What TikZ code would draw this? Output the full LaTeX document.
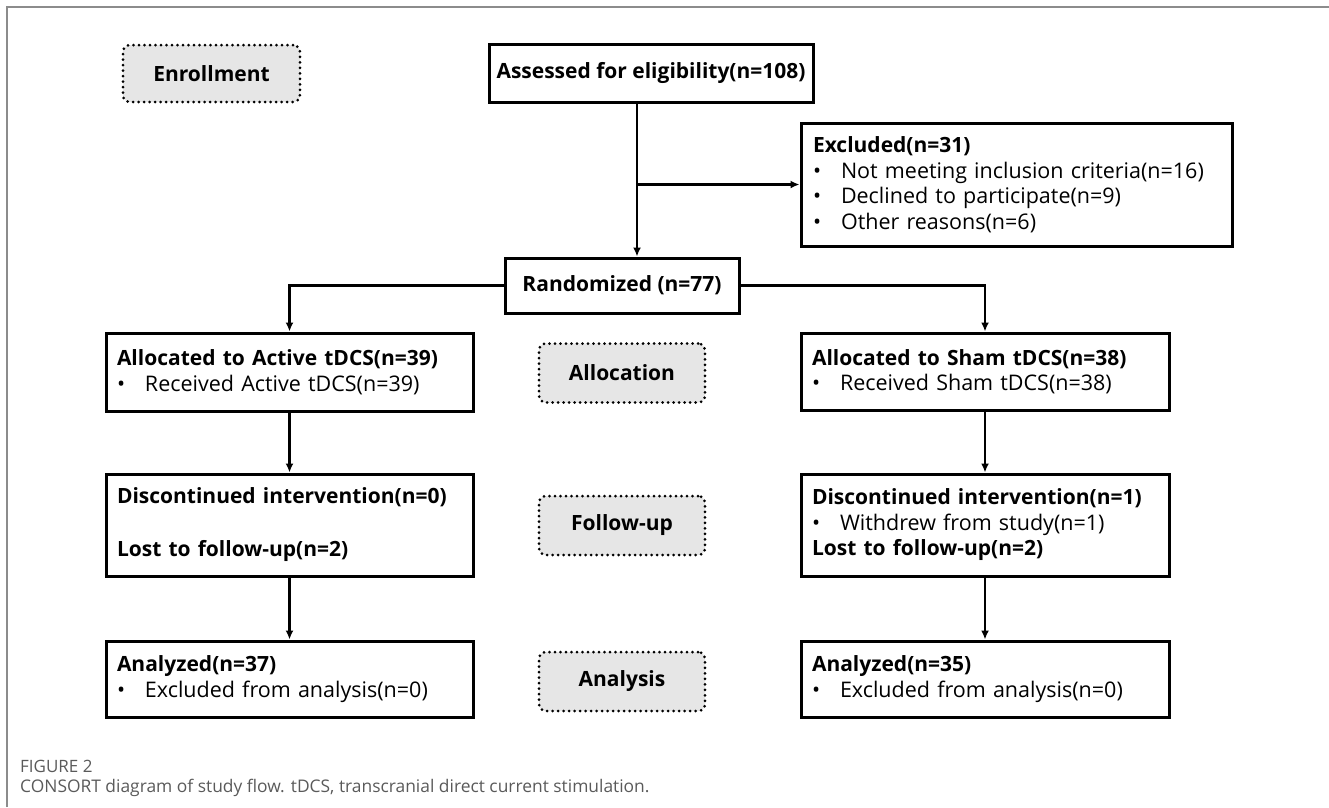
\documentclass[tikz,border=0pt]{standalone}
\usepackage{fontspec}
\setmainfont{Open Sans}
\usetikzlibrary{arrows.meta}
\definecolor{framegray}{HTML}{8C8C8C}
\definecolor{boxgray}{HTML}{E6E6E6}
\definecolor{capgray}{HTML}{5A5A5A}
\newcommand{\bul}{\makebox[28pt][l]{•}}
\newcommand{\hd}[1]{{\bfseries\fontsize{21}{25.5}\selectfont #1}}
\begin{document}
\begin{tikzpicture}[x=1pt,y=-1pt,
  box/.style={draw, line width=3pt, inner xsep=11pt, inner ysep=0pt, align=left, font=\fontsize{21.5}{25.5}\selectfont},
  cbox/.style={draw, line width=3pt, inner sep=0pt, align=center, font=\bfseries\fontsize{21}{25.5}\selectfont},
  phase/.style={draw, line width=3pt, dash pattern=on 0pt off 5.5pt, line cap=round, rounded corners=7pt, fill=boxgray, font=\bfseries\fontsize{21}{25}\selectfont, inner sep=0pt, minimum width=166pt, minimum height=59pt},
  conn/.style={line width=2.4pt},
  arr/.style={conn, -{Latex[length=9pt,width=8pt]}}
]
\useasboundingbox (0,0) rectangle (1329,807);
\draw[framegray, line width=2pt] (7,807) -- (7,7) -- (1329,7);

\node[phase, minimum width=177pt, minimum height=57pt] (enroll) at (211.5,73.5) {Enrollment};
\node[cbox, minimum width=324pt, minimum height=58pt] (assess) at (651,73) {Assessed for eligibility(n=108)};
\node[box, inner xsep=12pt, text width=407pt, minimum height=123pt] (excl) at (1016.5,184.5)
  {\hd{Excluded(n=31)}\\\bul Not meeting inclusion criteria(n=16)\\\bul Declined to participate(n=9)\\\bul Other reasons(n=6)};
\node[cbox, minimum width=234pt, minimum height=55pt] (rand) at (622,285.5) {Randomized (n=77)};

\node[box, text width=345pt, minimum height=78pt] (active) at (289.5,372)
  {\hd{Allocated to Active tDCS(n=39)}\\\bul Received Active tDCS(n=39)};
\node[phase] (alloc) at (622,373) {Allocation};
\node[box, text width=346pt, minimum height=77pt] (sham) at (985,371.5)
  {\hd{Allocated to Sham tDCS(n=38)}\\\bul Received Sham tDCS(n=38)};

\node[box, text width=345pt, minimum height=102pt] (discL) at (289.5,525)
  {\hd{Discontinued intervention(n=0)}\\[2pt]\mbox{}\\\hd{Lost to follow-up(n=2)}};
\node[phase] (follow) at (622,525.5) {Follow-up};
\node[box, text width=346pt, minimum height=102pt] (discR) at (985,525)
  {\hd{Discontinued intervention(n=1)}\\\bul Withdrew from study(n=1)\\\hd{Lost to follow-up(n=2)}};

\node[box, text width=345pt, minimum height=76pt] (analL) at (289.5,679)
  {\hd{Analyzed(n=37)}\\\bul Excluded from analysis(n=0)};
\node[phase] (analysis) at (622,681.5) {Analysis};
\node[box, text width=346pt, minimum height=76pt] (analR) at (985,679)
  {\hd{Analyzed(n=35)}\\\bul Excluded from analysis(n=0)};

\coordinate (trunk) at (637,102);
\draw[arr] (assess.south -| trunk) -- (rand.north -| trunk);
\draw[arr] (trunk |- excl.west) -- (excl.west);
\draw[arr] (rand.west) -| (active.north);
\draw[arr] (rand.east) -| (sham.north);
\draw[arr] (active.south) -- (discL.north);
\draw[arr] (discL.south) -- (analL.north);
\draw[arr] (sham.south) -- (discR.north);
\draw[arr] (discR.south) -- (analR.north);

\node[anchor=base west, inner sep=0pt, text=capgray, font=\fontsize{17}{19}\selectfont] (figlabel) at (20,772) {FIGURE 2};
\node[anchor=base west, inner sep=0pt, text=capgray, font=\fontsize{17.4}{20}\selectfont] (caption) at (20,792) {CONSORT diagram of study flow. tDCS, transcranial direct current stimulation.};
\end{tikzpicture}
\end{document}
